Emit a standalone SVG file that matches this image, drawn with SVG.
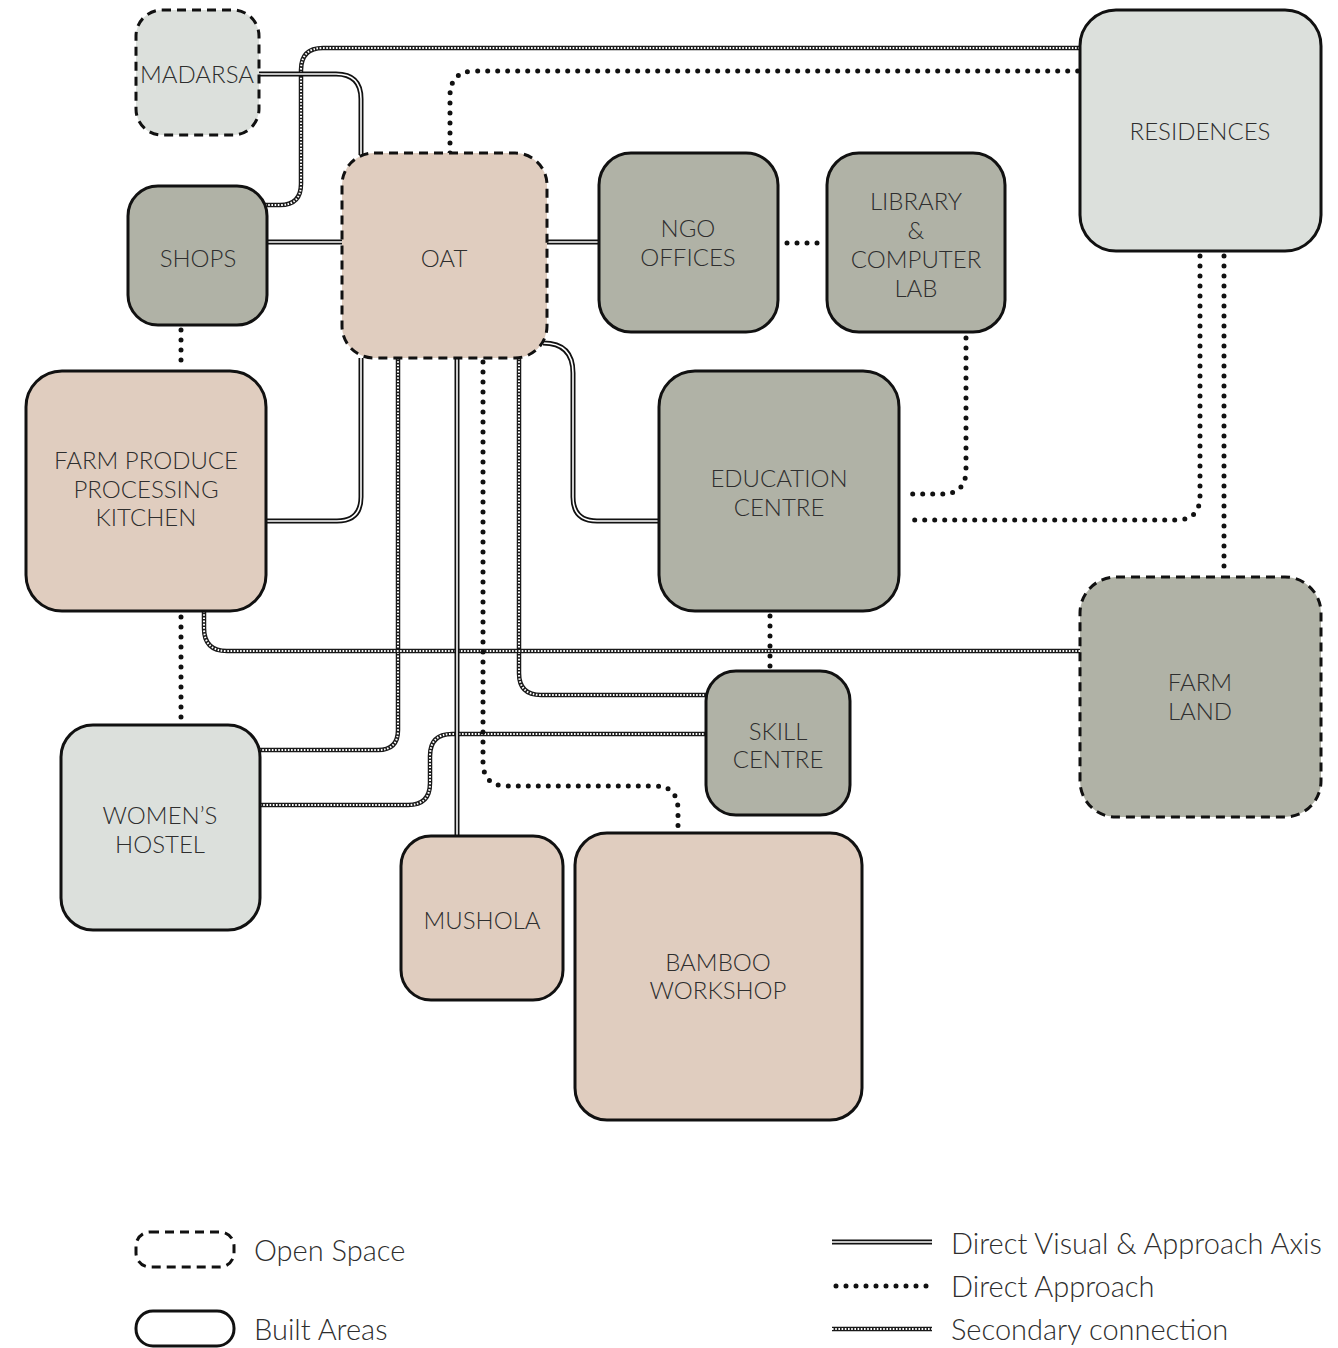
<svg xmlns="http://www.w3.org/2000/svg" xmlns:xlink="http://www.w3.org/1999/xlink" width="1338" height="1348" viewBox="0 0 1338 1348">
<style>
  .node { stroke: #111; stroke-width: 3; }
  .open { stroke-dasharray: 9 6; }
  .light { fill: #dce0dc; }
  .grey { fill: #b0b2a6; }
  .peach { fill: #e0cdbf; }
  .lbl { font-family: Lato, "Liberation Sans", sans-serif; font-weight: 300; font-size: 24px; fill: #2e2e2e; text-anchor: middle; }
  .leg { font-family: Lato, "Liberation Sans", sans-serif; font-weight: 300; font-size: 29px; fill: #2e2e2e; }
  .dbl-a { fill: none; stroke: #111; stroke-width: 5; }
  .dbl-b { fill: none; stroke: #fff; stroke-width: 1.6; }
  .dot { fill: none; stroke: #111; stroke-width: 5; stroke-linecap: round; stroke-dasharray: 0 10; }
  .sec-a { fill: none; stroke: #1a1a1a; stroke-width: 4.5; }
  .sec-b { fill: none; stroke: #fff; stroke-width: 2; stroke-dasharray: 1.6 1.6; }
</style>
<defs>
  <path id="s1" d="M265,205 H280 Q301,205 301,184 V70 Q301,48 323,48 H1080"/>
  <path id="s2" d="M398,358 V730 Q398,750 378,750 H260"/>
  <path id="s3" d="M519,358 V673 Q519,695 541,695 H706"/>
  <path id="s4" d="M204,611 V628 Q204,651 227,651 H1080"/>
  <path id="s5" d="M260,805 H408 Q430,805 430,783 V756 Q430,734 452,734 H706"/>
  <path id="d1" d="M259,74 H336 Q361,74 361,99 V155"/>
  <path id="d2" d="M267,242 H342"/>
  <path id="d3" d="M547,242 H599"/>
  <path id="d4" d="M361,358 V497 Q361,521 337,521 H266"/>
  <path id="d5" d="M543,343 Q573,343 573,373 V497 Q573,521 597,521 H659"/>
  <path id="d6" d="M457,358 V836"/>
  <path id="sl" d="M832,1329 H932"/>
  <path id="dl" d="M832,1242 H932"/>
</defs>
<rect width="1338" height="1348" fill="#fff"/>
<g id="connectors">
  <use xlink:href="#s1" class="sec-a"/><use xlink:href="#s1" class="sec-b"/>
  <use xlink:href="#s2" class="sec-a"/><use xlink:href="#s2" class="sec-b"/>
  <use xlink:href="#s3" class="sec-a"/><use xlink:href="#s3" class="sec-b"/>
  <use xlink:href="#s4" class="sec-a"/><use xlink:href="#s4" class="sec-b"/>
  <use xlink:href="#s5" class="sec-a"/><use xlink:href="#s5" class="sec-b"/>
  <use xlink:href="#d1" class="dbl-a"/><use xlink:href="#d1" class="dbl-b"/>
  <use xlink:href="#d2" class="dbl-a"/><use xlink:href="#d2" class="dbl-b"/>
  <use xlink:href="#d3" class="dbl-a"/><use xlink:href="#d3" class="dbl-b"/>
  <use xlink:href="#d4" class="dbl-a"/><use xlink:href="#d4" class="dbl-b"/>
  <use xlink:href="#d5" class="dbl-a"/><use xlink:href="#d5" class="dbl-b"/>
  <use xlink:href="#d6" class="dbl-a"/><use xlink:href="#d6" class="dbl-b"/>
  <path class="dot" d="M450,153 V96 Q450,71 475,71 H1080"/>
  <path class="dot" d="M787,243 H822"/>
  <path class="dot" d="M181,330 V368"/>
  <path class="dot" d="M483,362 V762 Q483,786 507,786 H655 Q678,786 678,810 V830"/>
  <path class="dot" d="M181,617 V722"/>
  <path class="dot" d="M770,616 V668"/>
  <path class="dot" d="M966,338 V470 Q966,494 942,494 H903"/>
  <path class="dot" d="M1200,256 V496 Q1200,520 1176,520 H905"/>
  <path class="dot" d="M1224,256 V575"/>
</g>
<g id="madarsa">
  <rect class="node open light" x="136" y="10" width="123" height="125" rx="26"/>
  <text class="lbl" x="197" y="83">MADARSA</text>
</g>
<g id="shops">
  <rect class="node grey" x="128" y="186" width="139" height="139" rx="30"/>
  <text class="lbl" x="198" y="267">SHOPS</text>
</g>
<g id="oat">
  <rect class="node open peach" x="342" y="153" width="205" height="205" rx="32"/>
  <text class="lbl" x="444" y="267">OAT</text>
</g>
<g id="ngo-offices">
  <rect class="node grey" x="599" y="153" width="179" height="179" rx="32"/>
  <text class="lbl" x="688" y="237">NGO</text>
  <text class="lbl" x="688" y="266">OFFICES</text>
</g>
<g id="library">
  <rect class="node grey" x="827" y="153" width="178" height="179" rx="32"/>
  <text class="lbl" x="916" y="210">LIBRARY</text>
  <text class="lbl" x="916" y="239">&amp;</text>
  <text class="lbl" x="916" y="268">COMPUTER</text>
  <text class="lbl" x="916" y="297">LAB</text>
</g>
<g id="residences">
  <rect class="node light" x="1080" y="10" width="241" height="241" rx="36"/>
  <text class="lbl" x="1200" y="140">RESIDENCES</text>
</g>
<g id="farm-produce">
  <rect class="node peach" x="26" y="371" width="240" height="240" rx="36"/>
  <text class="lbl" x="146" y="469">FARM PRODUCE</text>
  <text class="lbl" x="146" y="498">PROCESSING</text>
  <text class="lbl" x="146" y="526">KITCHEN</text>
</g>
<g id="education-centre">
  <rect class="node grey" x="659" y="371" width="240" height="240" rx="36"/>
  <text class="lbl" x="779" y="487">EDUCATION</text>
  <text class="lbl" x="779" y="516">CENTRE</text>
</g>
<g id="farm-land">
  <rect class="node open grey" x="1080" y="577" width="241" height="240" rx="36"/>
  <text class="lbl" x="1200" y="691">FARM</text>
  <text class="lbl" x="1200" y="720">LAND</text>
</g>
<g id="skill-centre">
  <rect class="node grey" x="706" y="671" width="144" height="144" rx="30"/>
  <text class="lbl" x="778" y="740">SKILL</text>
  <text class="lbl" x="778" y="768">CENTRE</text>
</g>
<g id="womens-hostel">
  <rect class="node light" x="61" y="725" width="199" height="205" rx="32"/>
  <text class="lbl" x="160" y="824">WOMEN’S</text>
  <text class="lbl" x="160" y="853">HOSTEL</text>
</g>
<g id="mushola">
  <rect class="node peach" x="401" y="836" width="162" height="164" rx="30"/>
  <text class="lbl" x="482" y="929">MUSHOLA</text>
</g>
<g id="bamboo-workshop">
  <rect class="node peach" x="575" y="833" width="287" height="287" rx="32"/>
  <text class="lbl" x="718" y="971">BAMBOO</text>
  <text class="lbl" x="718" y="999">WORKSHOP</text>
</g>
<g id="legend">
  <rect class="node open" fill="none" x="136" y="1232" width="98" height="35" rx="14"/>
  <text class="leg" x="254" y="1261">Open Space</text>
  <rect class="node" fill="none" x="136" y="1311" width="98" height="35" rx="17"/>
  <text class="leg" x="254" y="1340">Built Areas</text>
  <use xlink:href="#dl" class="dbl-a"/><use xlink:href="#dl" class="dbl-b"/>
  <text class="leg" x="951" y="1254">Direct Visual &amp; Approach Axis</text>
  <path class="dot" d="M836,1286 H932"/>
  <text class="leg" x="951" y="1297">Direct Approach</text>
  <use xlink:href="#sl" class="sec-a"/><use xlink:href="#sl" class="sec-b"/>
  <text class="leg" x="951" y="1340">Secondary connection</text>
</g>
</svg>
